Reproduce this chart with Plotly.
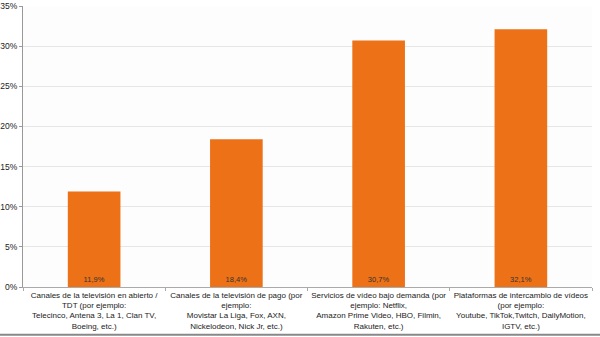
import plotly.graph_objects as go

categories = [
    "Canales de la televisión en abierto /<br>TDT (por ejemplo:<br>Telecinco, Antena 3, La 1, Clan TV,<br>Boeing, etc.)",
    "Canales de la televisión de pago (por<br>ejemplo:<br>Movistar La Liga, Fox, AXN,<br>Nickelodeon, Nick Jr, etc.)",
    "Servicios de vídeo bajo demanda (por<br>ejemplo: Netflix,<br>Amazon Prime Video, HBO, Filmin,<br>Rakuten, etc.)",
    "Plataformas de intercambio de vídeos<br>(por ejemplo:<br>Youtube, TikTok,Twitch, DailyMotion,<br>IGTV, etc.)",
]
values = [11.9, 18.4, 30.7, 32.1]
y_ticks = [0, 5, 10, 15, 20, 25, 30, 35]
y_tick_labels = ["0%", "5%", "10%", "15%", "20%", "25%", "30%", "35%"]

fig = go.Figure(go.Bar(
    x=categories, y=values,
    marker=dict(color="#EC7117", line=dict(width=0)),
    texttemplate="%{y:.1f}%", textposition="inside", insidetextanchor="start",
    textfont=dict(family="Liberation Sans, Arial", size=7.5, color="#333333"),
    textangle=0,
))
fig.update_layout(
    width=600, height=337,
    margin=dict(l=23, r=8, t=6, b=50, autoexpand=False),
    paper_bgcolor="white", plot_bgcolor="#fdfdfd",
    separators=",.",
    bargap=0.63,
    showlegend=False,
    font=dict(family="Liberation Sans, Arial", size=8, color="#222222"),
    xaxis=dict(
        showline=True, linecolor="#aaaaaa", linewidth=1,
        ticks="outside", tickson="boundaries", ticklen=3, tickcolor="#aaaaaa",
        tickfont=dict(size=8), tickangle=0, automargin=False,
    ),
    yaxis=dict(
        range=[0, 35], tickmode="array", tickvals=y_ticks, ticktext=y_tick_labels,
        showline=True, linecolor="#999999", linewidth=1,
        ticks="outside", ticklen=3, tickcolor="#999999",
        gridcolor="#e6e6e6", zeroline=False, automargin=False,
        tickfont=dict(size=8.5), ticklabeloverflow="allow",
    ),
    shapes=[dict(type="line", xref="paper", yref="paper",
                 x0=-0.05, x1=1.02, y0=-0.17, y1=-0.17,
                 line=dict(color="#888888", width=2))],
)
fig.write_html("out.html")
